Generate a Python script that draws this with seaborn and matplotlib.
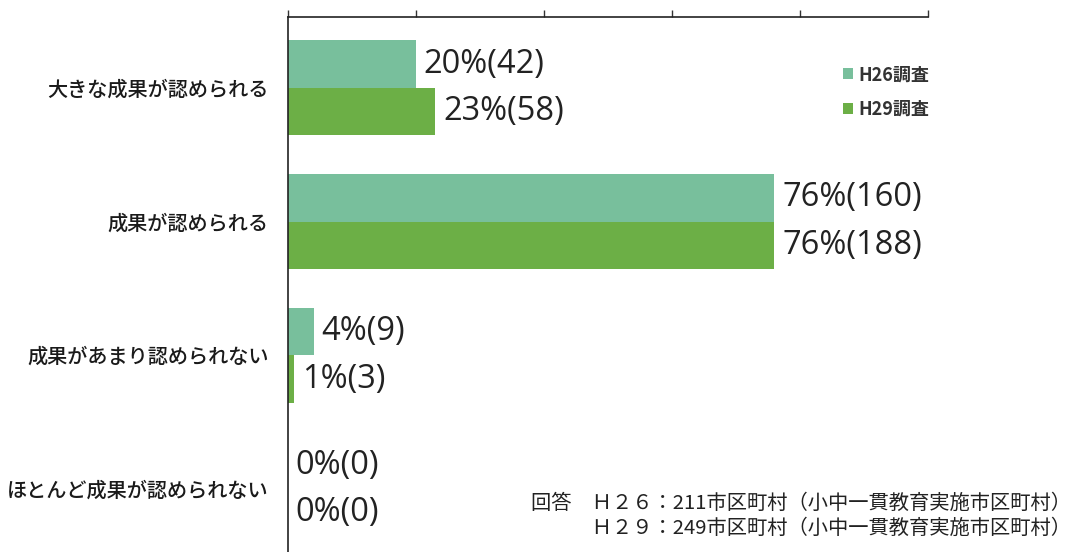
import matplotlib
matplotlib.use("Agg")
import matplotlib.pyplot as plt
import seaborn as sns
import pandas as pd
from matplotlib.patches import Patch

categories = ["大きな成果が認められる", "成果が認められる", "成果があまり認められない", "ほとんど成果が認められない"]
series = ["H26調査", "H29調査"]
h26_pct = [20, 76, 4, 0]
h26_cnt = [42, 160, 9, 0]
h29_pct = [23, 76, 1, 0]
h29_cnt = [58, 188, 3, 0]
colors = ["#78bf9c", "#6caf46"]
note_lines = ["回答　Ｈ２６：211市区町村（小中一貫教育実施市区町村）",
              "　　　Ｈ２９：249市区町村（小中一貫教育実施市区町村）"]

sns.set_style("white")
plt.rcParams['font.family'] = ['Noto Sans CJK JP', 'DejaVu Sans']

rows = []
for c, p, n in zip(categories, h26_pct, h26_cnt):
    rows.append({"cat": c, "series": series[0], "pct": p, "cnt": n})
for c, p, n in zip(categories, h29_pct, h29_cnt):
    rows.append({"cat": c, "series": series[1], "pct": p, "cnt": n})
df = pd.DataFrame(rows)

fig = plt.figure(figsize=(10.77, 5.52), dpi=100)
ax = fig.add_axes([288/1077, 0.0, (928-288)/1077, 1 - 17/552])

sns.barplot(data=df, y="cat", x="pct", hue="series", order=categories,
            hue_order=series, palette=colors, width=0.71, orient="h",
            ax=ax, legend=False, saturation=1, linewidth=0, edgecolor='none')

ax.set_xlim(0, 100)
ax.set_ylim(3.47, -0.53)
ax.set_xticks([0, 20, 40, 60, 80, 100])
ax.xaxis.tick_top()
ax.tick_params(axis='x', which='both', direction='out', length=5, width=1,
               labeltop=False, labelbottom=False, color='#333333')
ax.tick_params(axis='y', length=0, pad=14, labelsize=14.5, labelcolor='#1a1a1a')
for lab in ax.get_yticklabels():
    lab.set_fontweight('medium')
ax.set_xlabel("")
ax.set_ylabel("")
for s in ["right", "bottom"]:
    ax.spines[s].set_visible(False)
for s in ["top", "left"]:
    ax.spines[s].set_visible(True)
    ax.spines[s].set_color('#222222')
    ax.spines[s].set_linewidth(1.2)

bw = 0.71 / 2
numfont = ['Open Sans', 'DejaVu Sans']
for i in range(len(categories)):
    y1 = i - bw / 2
    y2 = i + bw / 2
    ax.text(h26_pct[i] + 1.2, y1, f"{h26_pct[i]}%({h26_cnt[i]})", va='center', ha='left',
            fontsize=23.5, color='#222222', family=numfont)
    ax.text(h29_pct[i] + 1.2, y2, f"{h29_pct[i]}%({h29_cnt[i]})", va='center', ha='left',
            fontsize=23.5, color='#222222', family=numfont)

handles = [Patch(facecolor=colors[0], edgecolor='none'), Patch(facecolor=colors[1], edgecolor='none')]
leg = fig.legend(handles, series, loc='center left', bbox_to_anchor=(827/1077, 1 - 92/552),
                 frameon=False, fontsize=13, handlelength=0.55, handleheight=0.55,
                 handletextpad=0.3, labelspacing=0.85)
for t in leg.get_texts():
    t.set_fontweight('bold')
    t.set_color('#333333')

fig.text(531/1077, 1 - 503/552, note_lines[0], fontsize=14.6, va='center', ha='left', color='#222222')
fig.text(531/1077, 1 - 528/552, note_lines[1], fontsize=14.6, va='center', ha='left', color='#222222')

fig.savefig("out.png", dpi=100)
